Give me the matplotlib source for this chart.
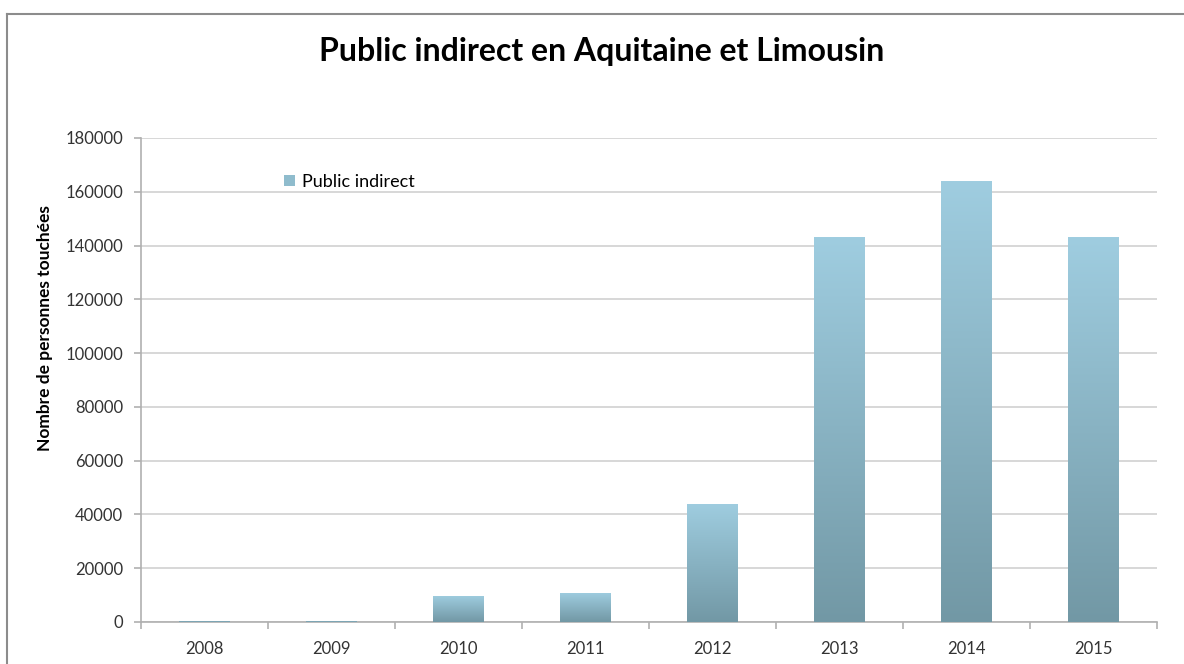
import matplotlib
matplotlib.use('Agg')
import matplotlib.pyplot as plt
import numpy as np
from matplotlib.colors import LinearSegmentedColormap
from matplotlib.patches import Patch
from matplotlib.lines import Line2D
from matplotlib.ticker import MultipleLocator, FixedLocator

# Data
years = ['2008', '2009', '2010', '2011', '2012', '2013', '2014', '2015']
public_indirect = [400, 400, 9700, 10900, 44000, 143000, 164000, 143000]

title = 'Public indirect en Aquitaine et Limousin'
y_label = 'Nombre de personnes touchées'
legend_label = 'Public indirect'

plt.rcParams['font.family'] = ['Lato', 'DejaVu Sans']

fig = plt.figure(figsize=(11.84, 6.64), dpi=100)
ax = fig.add_axes([141 / 1184, 42 / 664, 1016 / 1184, 484 / 664])

# outer chart frame (runs off the right and bottom edge)
fig.add_artist(Line2D([7 / 1184, 7 / 1184], [1 - 14 / 664, -0.1], transform=fig.transFigure,
                      color='#8c8c8c', lw=1.5))
fig.add_artist(Line2D([7 / 1184, 1.1], [1 - 14 / 664, 1 - 14 / 664], transform=fig.transFigure,
                      color='#8c8c8c', lw=1.5))

x = np.arange(len(years))
bars = ax.bar(x, public_indirect, width=0.4, color='none', edgecolor='none', zorder=3)

# vertical gradient per bar, light on top, darker at the bottom
cmap = LinearSegmentedColormap.from_list('bar', ['#7298a5', '#9fcde0'])
grad = np.linspace(0, 1, 256).reshape(-1, 1)
for b in bars:
    x0, w, h = b.get_x(), b.get_width(), b.get_height()
    im = ax.imshow(grad, cmap=cmap, aspect='auto', origin='lower',
                   extent=[x0, x0 + w, 0, h], zorder=3)
    im.set_clip_path(b)

ax.set_xlim(-0.5, len(years) - 0.5)
ax.set_ylim(0, 180000)
ax.yaxis.set_major_locator(MultipleLocator(20000))
ax.set_xticks(x)
ax.set_xticklabels(years)
ax.xaxis.set_minor_locator(FixedLocator(np.arange(-0.5, len(years), 1.0)))

ax.grid(axis='y', color='#d4d4d4', lw=1.3, zorder=0)
ax.set_axisbelow(True)
for side in ['top', 'right']:
    ax.spines[side].set_visible(False)
for side in ['left', 'bottom']:
    ax.spines[side].set_color('#b0b0b0')
    ax.spines[side].set_linewidth(1.2)

ax.tick_params(axis='x', which='major', length=0, pad=14, labelsize=12, labelcolor='#333333')
ax.tick_params(axis='x', which='minor', length=5, color='#b0b0b0', width=1.2)
ax.tick_params(axis='y', length=5, color='#b0b0b0', width=1.2, pad=8, labelsize=12,
               labelcolor='#333333')

ax.set_ylabel(y_label, fontsize=12.5, fontweight='bold')
ax.yaxis.set_label_coords(45 / 1184, 1 - 328 / 664, transform=fig.transFigure)
ax.yaxis.label.set_va('center')

fig.text(0.508, 1 - 52 / 664, title, ha='center', va='center', fontsize=23, fontweight='bold')

ax.legend([Patch(facecolor='#8fbccd')], [legend_label], loc='center left',
          bbox_to_anchor=(268 / 1184, 1 - 182 / 664), bbox_transform=fig.transFigure,
          frameon=False, fontsize=13, handlelength=0.6, handleheight=0.6, handletextpad=0.4)

fig.savefig('out.png', dpi=100, facecolor='white')
